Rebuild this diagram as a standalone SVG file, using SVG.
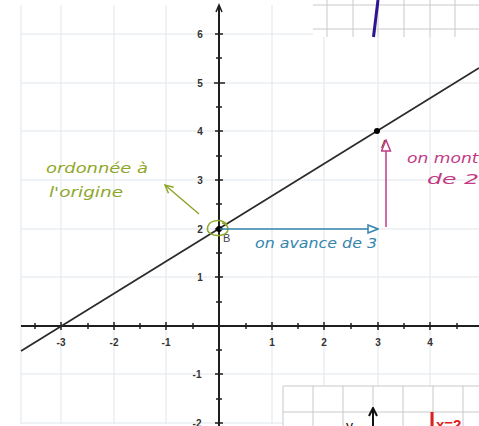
<svg xmlns="http://www.w3.org/2000/svg" width="479" height="426" viewBox="0 0 479 426">
<style>
.grid{stroke:#dfe7eb;stroke-width:1;fill:none}
.igrid{stroke:#c9c9c9;stroke-width:1;fill:none}
.axis{stroke:#1e1e1e;stroke-width:2;fill:none}
.tick{stroke:#1e1e1e;stroke-width:1.5}
.lbl{font-family:"Liberation Sans",Arial,sans-serif;font-size:10px;font-weight:bold;fill:#333;text-anchor:middle}
.hand{font-family:"DejaVu Sans","Liberation Sans",sans-serif;font-style:italic;font-size:14px}
.green{fill:#8ea72b}
.blue{fill:#3585ad}
.pink{fill:#c23a84}
.pt{fill:#000}
.ptl{font-family:"Liberation Sans",Arial,sans-serif;font-size:11px;fill:#444}
</style>
<defs>
<marker id="mGreen" markerWidth="10" markerHeight="10" refX="9" refY="5" orient="auto" markerUnits="userSpaceOnUse">
<path d="M1,1 L9,5 L1,9" fill="none" stroke="#8ea72b" stroke-width="1.5"/>
</marker>
<marker id="mBlue" markerWidth="12" markerHeight="10" refX="11" refY="5" orient="auto" markerUnits="userSpaceOnUse">
<path d="M1,1 L11,5 L1,9 Z" fill="#fff" stroke="#3585ad" stroke-width="1.5"/>
</marker>
<marker id="mPink" markerWidth="13" markerHeight="11" refX="12" refY="5.5" orient="auto" markerUnits="userSpaceOnUse">
<path d="M1,1 L12,5.5 L1,10 Z" fill="#fff" stroke="#c23a84" stroke-width="1.5"/>
</marker>
<marker id="mBlack" markerWidth="10" markerHeight="10" refX="9" refY="5" orient="auto" markerUnits="userSpaceOnUse">
<path d="M1,1 L9,5 L1,9" fill="none" stroke="#111" stroke-width="2"/>
</marker>
</defs>
<rect width="479" height="426" fill="#fff"/>

<g id="grid">
<path class="grid" d="M21,5 V424 M61,5 V424 M114,5 V424 M166,5 V424 M272,5 V424 M324,5 V424 M378,5 V424 M430,5 V424 M21,34 H479 M21,83 H479 M21,131 H479 M21,180 H479 M21,229 H479 M21,277 H479 M21,374 H479 M21,423 H479"/>
</g>

<g id="axes">
<path class="axis" d="M21,326 H479 M219,7 V426"/>
<path d="M216,12 L219,5 L222,12" fill="none" stroke="#1e1e1e" stroke-width="1.5"/>
<path class="tick" d="M35,323 V329 M61,322 V330 M88,323 V329 M114,322 V330 M140,323 V329 M166,322 V330 M193,323 V329 M246,323 V329 M272,322 V330 M298,323 V329 M324,322 V330 M351,323 V329 M378,322 V330 M404,323 V329 M430,322 V330 M457,323 V329"/>
<path class="tick" d="M215,34 H223 M216,58 H222 M214,83 H225 M216,107 H222 M215,131 H223 M216,156 H222 M215,180 H223 M216,204 H222 M215,229 H223 M216,253 H222 M215,277 H223 M216,302 H222 M216,350 H222 M215,374 H223 M216,399 H222 M215,423 H223"/>
<text class="lbl" x="200" y="38">6</text>
<text class="lbl" x="200" y="87">5</text>
<text class="lbl" x="200" y="135">4</text>
<text class="lbl" x="200" y="184">3</text>
<text class="lbl" x="200" y="233">2</text>
<text class="lbl" x="200" y="281">1</text>
<text class="lbl" x="197" y="378">-1</text>
<text class="lbl" x="197" y="427">-2</text>
<text class="lbl" x="61" y="346">-3</text>
<text class="lbl" x="114" y="346">-2</text>
<text class="lbl" x="166" y="346">-1</text>
<text class="lbl" x="272" y="346">1</text>
<text class="lbl" x="324" y="346">2</text>
<text class="lbl" x="378" y="346">3</text>
<text class="lbl" x="430" y="346">4</text>
</g>

<g id="droite">
<line x1="21" y1="351" x2="479" y2="68" stroke="#2b2b2b" stroke-width="1.8"/>
</g>

<g id="pointA">
<circle class="pt" cx="377" cy="131" r="3"/>
<text class="ptl" x="381" y="148">A</text>
</g>
<g id="pointB">
<circle class="pt" cx="219" cy="229" r="3"/>
<text class="ptl" x="223" y="242">B</text>
</g>

<g id="insetTop">
<rect x="313" y="0" width="166" height="37" fill="#fff"/>
<path class="igrid" d="M313,5 H479 M313,29 H479 M327,0 V37 M353,0 V37 M378,0 V37 M404,0 V37 M430,0 V37 M455,0 V37"/>
<line x1="378" y1="0" x2="373.5" y2="37" stroke="#2e148e" stroke-width="3"/>
</g>

<g id="insetBottom">
<rect x="283" y="386" width="196" height="40" fill="#fff"/>
<path class="igrid" d="M283,386 H479 M283,412 H479 M283,386 V426 M313,386 V426 M343,386 V426 M373,386 V426 M403,386 V426 M433,386 V426 M463,386 V426"/>
<line x1="373" y1="426" x2="373" y2="408" stroke="#111" stroke-width="2" marker-end="url(#mBlack)"/>
<text x="346" y="431" font-family="Liberation Sans,Arial,sans-serif" font-size="14" fill="#111">y</text>
<rect x="430.5" y="412" width="3" height="14" fill="#e0201c"/>
<text x="436" y="430" font-family="Liberation Sans,Arial,sans-serif" font-size="15" font-weight="bold" fill="#e0201c">x=2</text>
</g>

<g id="labelOrdonnee">
<text class="hand green" x="46" y="173" textLength="102" lengthAdjust="spacingAndGlyphs">ordonnée à</text>
<text class="hand green" x="49" y="197" textLength="74" lengthAdjust="spacingAndGlyphs">l'origine</text>
<path d="M227,225 C223,219 211,219 208,226 C205,233 214,237 222,235 C230,233 230,225 222,223" fill="none" stroke="#8ea72b" stroke-width="1.5"/>
</g>

<g id="labelAvance">
<text class="hand blue" x="255" y="248" textLength="122" lengthAdjust="spacingAndGlyphs">on avance de 3</text>
</g>

<g id="labelMonte">
<text class="hand pink" x="407" y="163" textLength="82" lengthAdjust="spacingAndGlyphs">on monte</text>
<text class="hand pink" x="427" y="184" textLength="52" lengthAdjust="spacingAndGlyphs">de 2</text>
</g>

<g id="connectors">
<line x1="199" y1="214" x2="165" y2="185" stroke="#8ea72b" stroke-width="1.5" marker-end="url(#mGreen)"/>
<line x1="220" y1="229" x2="378" y2="229" stroke="#3585ad" stroke-width="1.5" marker-end="url(#mBlue)"/>
<line x1="386" y1="227" x2="386" y2="140" stroke="#c23a84" stroke-width="1.5" marker-end="url(#mPink)"/>
</g>
</svg>
